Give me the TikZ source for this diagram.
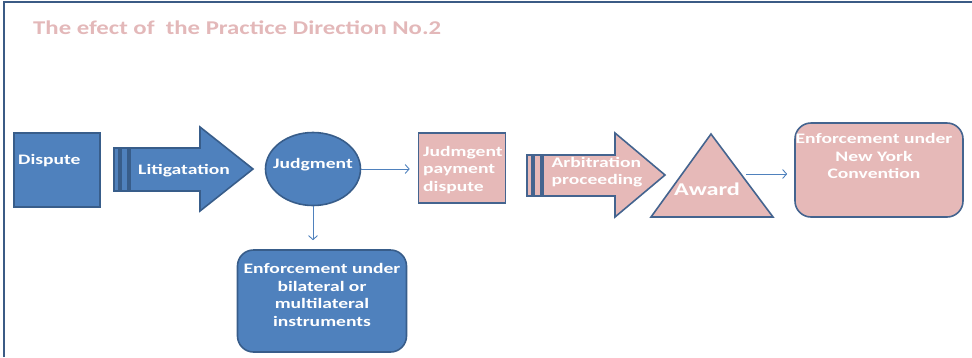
\documentclass[tikz,border=0pt]{standalone}
\usepackage{fontspec}
\newfontfamily\boxfont[FakeStretch=1.35]{Carlito}
\newfontfamily\titlefont[FakeStretch=1.27]{Carlito}
\usetikzlibrary{arrows.meta,shapes.geometric}

\definecolor{slideblue}{HTML}{4F81BD}
\definecolor{slideline}{HTML}{385D8A}
\definecolor{slidepink}{HTML}{E6B9B8}
\definecolor{pinkline}{HTML}{44648F}
\definecolor{framecol}{HTML}{3B5B85}
\definecolor{titlepink}{HTML}{E3B8B9}

\tikzset{
  bluebox/.style={draw=slideline,fill=slideblue,line width=1.6pt,inner sep=0pt},
  pinkbox/.style={draw=pinkline,fill=slidepink,line width=1.6pt,inner sep=0pt},
  boxtext/.style={text=white,font=\boxfont\bfseries\fontsize{14.5}{17.6}\selectfont,inner sep=0pt},
  link/.style={draw=slideblue,line width=0.9pt,-{Straight Barb[length=4pt,width=9pt]}},
}

\begin{document}
\begin{tikzpicture}[x=1pt,y=-1pt]
\useasboundingbox (0,0) rectangle (972,357);
% frame and title
\draw[framecol,line width=2pt] (4,357) -- (4,2) -- (972,2);
\node[anchor=base west,text=titlepink,inner sep=0pt,
  font=\titlefont\bfseries\fontsize{19.5}{22}\selectfont] (title) at (33,34) {The efect of\ \ the Practice Direction No.2};

% dispute
\node[bluebox,minimum width=86pt,minimum height=74pt] (dispute) at (57,170) {};
\node[boxtext,anchor=base west] (disputetxt) at (18,164) {Dispute};

% litigation arrow
\draw[bluebox] (114,148) rectangle (119,191);
\draw[bluebox] (121,148) rectangle (128,191);
\draw[bluebox] (130,148) -- (200,148) -- (200,127) -- (253,169) -- (200,211) -- (200,191) -- (130,191) -- cycle;
\node[boxtext] (litig) at (184,171) {Litigatation};

% judgment
\node[bluebox,ellipse,minimum width=95pt,minimum height=73pt] (judg) at (313,169) {};
\node[boxtext] (judgtxt) at (313,165) {Judgment};

% enforcement, bilateral
\node[bluebox,rounded corners=16pt,minimum width=169pt,minimum height=102pt] (bilat) at (322,301) {};
\node[boxtext,align=center] (bilattxt) at (322,295) {Enforcement under\\bilateral or\\multilateral\\instruments};

% payment dispute
\node[pinkbox,minimum width=87pt,minimum height=70pt] (payment) at (462,168) {};
\node[boxtext,align=left,anchor=west] (paytxt) at (423,170) {Judmgent\\payment\\dispute};

% arbitration arrow
\draw[pinkbox] (527,155) rectangle (532,196);
\draw[pinkbox] (534,155) rectangle (541,196);
\draw[pinkbox] (543,155) -- (615,155) -- (615,133) -- (665,175) -- (615,217) -- (615,196) -- (543,196) -- cycle;
\node[boxtext,align=left] (arbtxt) at (597,172) {Arbitration\\proceeding};

% award
\draw[pinkbox] (711,134) -- (773,217) -- (651,217) -- cycle;
\node[boxtext,font=\boxfont\bfseries\fontsize{18}{20}\selectfont] (award) at (707,189) {Award};

% new york convention
\node[pinkbox,rounded corners=16pt,minimum width=168pt,minimum height=94pt] (newyork) at (879,170) {};
\node[boxtext,align=center] (nytxt) at (874,156) {Enforcement under\\New York\\Convention};

% connectors
\draw[link,shorten >=8pt] (judg.east) -- (judg.east -| payment.west);
\draw[link,shorten >=9pt] (judg.south) -- (judg.south |- bilat.north);
\coordinate (awardedge) at (746,174);
\draw[link,shorten >=7pt] (awardedge) -- (awardedge -| newyork.west);
\end{tikzpicture}
\end{document}
